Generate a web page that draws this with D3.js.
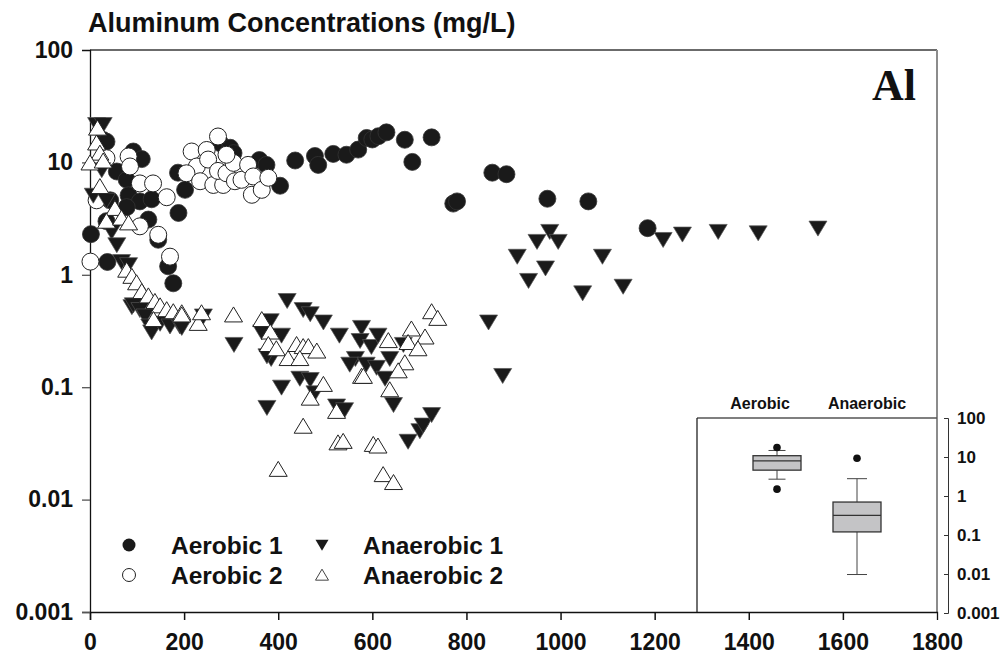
<!DOCTYPE html>
<html><head><meta charset="utf-8">
<script src="https://cdn.jsdelivr.net/npm/d3@7"></script>
<style>body{margin:0;background:#fff}svg{display:block;font-family:"Liberation Sans",Arial,sans-serif}</style>
</head><body>
<svg id="c" width="1006" height="661"></svg>
<script>
const aerobic1 = [[2,2.3],[37,1.3],[28,15.8],[35,15.3],[92,12.5],[110,10.7],[57,8.3],[78,7.0],[43,4.6],[82,5.1],[106,4.5],[131,4.7],[78,4.0],[124,3.1],[35,3.0],[188,3.55],[145,2.05],[166,1.19],[177,0.84],[187,8.1],[202,5.7],[277,14.8],[298,13.5],[305,12.1],[360,10.5],[375,9.5],[404,6.2],[436,10.4],[478,11.4],[485,9.5],[517,11.9],[545,11.7],[570,13],[588,16.5],[600,16],[613,17.1],[630,18.5],[669,15.9],[685,10.1],[726,16.7],[772,4.3],[780,4.5],[855,8.1],[885,7.85],[972,4.75],[1059,4.5],[1185,2.6]];
const aerobic2 = [[1,1.31],[14,4.6],[35,10.9],[82,11.3],[85,9.2],[106,6.5],[134,6.5],[163,4.9],[106,2.7],[145,2.27],[170,1.45],[216,12.5],[248,12.9],[272,17],[227,9.2],[251,10.6],[205,8.0],[234,6.8],[262,6.3],[283,6.3],[272,8.4],[290,8.0],[305,9.9],[308,6.8],[322,7.0],[336,9.5],[347,7.5],[344,5.15],[365,5.7],[379,7.3],[290,11.7]];
const anaerobic1 = [[14,21.7],[28,21.7],[25,8.6],[7,5.1],[35,4.6],[46,2.43],[57,1.85],[67,1.31],[82,1.23],[89,0.52],[92,0.54],[106,0.49],[117,0.43],[127,0.35],[131,0.31],[149,0.37],[170,0.35],[191,0.35],[195,0.34],[241,0.43],[306,0.24],[419,0.59],[453,0.49],[468,0.45],[496,0.38],[530,0.29],[577,0.34],[574,0.26],[598,0.23],[612,0.29],[564,0.18],[552,0.16],[587,0.16],[609,0.15],[637,0.18],[627,0.12],[645,0.07],[666,0.24],[383,0.39],[365,0.31],[385,0.18],[407,0.29],[376,0.19],[446,0.12],[468,0.117],[478,0.089],[407,0.10],[376,0.066],[524,0.068],[541,0.063],[676,0.033],[701,0.041],[708,0.046],[726,0.057],[847,0.38],[877,0.127],[908,1.46],[932,0.89],[950,1.98],[977,2.43],[995,1.98],[968,1.15],[1047,0.69],[1089,1.46],[1133,0.79],[1218,2.06],[1259,2.3],[1335,2.43],[1420,2.36],[1547,2.6]];
const anaerobic2 = [[16,20.2],[14,14.9],[21,12.1],[0,9.9],[28,10.3],[21,6.1],[53,3.9],[35,3.0],[67,3.2],[82,2.9],[78,1.1],[89,0.97],[99,0.85],[110,0.71],[124,0.65],[138,0.58],[149,0.53],[163,0.49],[177,0.47],[195,0.46],[135,0.40],[195,0.44],[230,0.37],[237,0.46],[305,0.44],[365,0.40],[383,0.31],[379,0.24],[396,0.22],[421,0.18],[439,0.24],[453,0.23],[464,0.23],[482,0.21],[446,0.18],[496,0.106],[468,0.080],[453,0.045],[527,0.032],[538,0.033],[602,0.031],[612,0.030],[400,0.0186],[577,0.125],[581,0.125],[524,0.061],[726,0.47],[739,0.41],[683,0.33],[712,0.28],[676,0.25],[697,0.22],[634,0.26],[669,0.165],[655,0.14],[637,0.095],[623,0.0167],[645,0.0142]];

const xTicks = [0,200,400,600,800,1000,1200,1400,1600,1800];
const yTicks = [100,10,1,0.1,0.01,0.001];
const yTickLabels = ["100","10","1","0.1","0.01","0.001"];
const seriesNames = ["Aerobic 1","Aerobic 2","Anaerobic 1","Anaerobic 2"];

const boxCategories = ["Aerobic","Anaerobic"];
const boxQ1 = [4.6, 0.12];
const boxMedian = [8.0, 0.32];
const boxQ3 = [10.8, 0.70];
const whiskerLow = [2.7, 0.0097];
const whiskerHigh = [14.7, 2.78];
const boxOutliers = [[17.6, 1.5], [9.3]];

const title = "Aluminum Concentrations (mg/L)";
const panelLabel = "Al";

const svg = d3.select("#c");
const L = 90, R = 937, T = 50, B = 612;
const x = d3.scaleLinear().domain([0,1800]).range([L,R]);
const y = d3.scaleLog().domain([0.001,100]).range([B,T]);

// frame
svg.append("line").attr("x1",L).attr("x2",R).attr("y1",T).attr("y2",T).attr("stroke","#3a3a3a").attr("stroke-width",1.3);
svg.append("line").attr("x1",R).attr("x2",R).attr("y1",T).attr("y2",B).attr("stroke","#8c8c8c").attr("stroke-width",2);

// inset frame
const IL = 697, IT = 418;
svg.append("line").attr("x1",IL).attr("x2",R).attr("y1",IT).attr("y2",IT).attr("stroke","#555").attr("stroke-width",1.3);
svg.append("line").attr("x1",IL).attr("x2",IL).attr("y1",IT).attr("y2",B).attr("stroke","#222").attr("stroke-width",1.3);

// axes
const xAxis = svg.append("g").attr("transform",`translate(0,${B})`)
  .call(d3.axisBottom(x).tickValues(xTicks).tickFormat(d3.format("d")).tickSize(8).tickPadding(14));
xAxis.selectAll(".tick line").attr("stroke","#111").attr("stroke-width",1.5).filter(d=>d===1800).remove();
xAxis.select(".domain").attr("stroke","#111").attr("stroke-width",1.3);
xAxis.selectAll("text").attr("font-size",23).attr("font-weight","bold").attr("fill","#111");

const yAxis = svg.append("g").attr("transform",`translate(${L},0)`)
  .call(d3.axisLeft(y).tickValues(yTicks).tickFormat((d,i)=>yTickLabels[i]).tickSize(8).tickPadding(9));
yAxis.selectAll(".tick line").attr("stroke","#555").attr("stroke-width",1.3).filter(d=>d===100).remove();
yAxis.select(".domain").attr("stroke","#111").attr("stroke-width",1.3);
yAxis.selectAll("text").attr("font-size",23).attr("font-weight","bold").attr("fill","#111");

// title & panel label
svg.append("text").attr("x",88).attr("y",32).attr("font-size",27).attr("font-weight","bold").attr("fill","#111").text(title);
svg.append("text").attr("x",894).attr("y",100).attr("text-anchor","middle").attr("font-family","'Liberation Serif','Times New Roman',serif")
  .attr("font-size",44).attr("font-weight","bold").attr("fill","#111").text(panelLabel);

// marker shapes
const triDown = (w,h)=>`M${-w/2},${-h*0.47}L${w/2},${-h*0.47}L0,${h*0.53}Z`;
const triUp = (w,h)=>`M0,${-h*0.53}L${w/2},${h*0.47}L${-w/2},${h*0.47}Z`;

const gPts = svg.append("g");
gPts.selectAll("circle.a1").data(aerobic1).join("circle").attr("class","a1")
  .attr("cx",d=>x(d[0])).attr("cy",d=>y(d[1])).attr("r",8.5).attr("fill","#1a1a1a").attr("stroke","#333").attr("stroke-width",0.8);
gPts.selectAll("circle.a2").data(aerobic2).join("circle").attr("class","a2")
  .attr("cx",d=>x(d[0])).attr("cy",d=>y(d[1])).attr("r",8.5).attr("fill","#fff").attr("stroke","#222").attr("stroke-width",1);
gPts.selectAll("path.n1").data(anaerobic1).join("path").attr("class","n1")
  .attr("transform",d=>`translate(${x(d[0])},${y(d[1])})`).attr("d",triDown(18,15)).attr("fill","#1a1a1a").attr("stroke","#555").attr("stroke-width",0.7);
gPts.selectAll("path.n2").data(anaerobic2).join("path").attr("class","n2")
  .attr("transform",d=>`translate(${x(d[0])},${y(d[1])})`).attr("d",triUp(18,15)).attr("fill","#fff").attr("stroke","#222").attr("stroke-width",1);

// legend
const legX = [129, 322], legTX = [171, 363], legY = [545, 575];
const leg = svg.append("g");
seriesNames.forEach((name,i)=>{
  const col = i<2 ? 0 : 1, row = i%2;
  const cx = legX[col], cy = legY[row];
  if (i===0) leg.append("circle").attr("cx",cx).attr("cy",cy).attr("r",6.5).attr("fill","#1a1a1a");
  if (i===1) leg.append("circle").attr("cx",cx).attr("cy",cy).attr("r",6.5).attr("fill","#fff").attr("stroke","#222");
  if (i===2) leg.append("path").attr("transform",`translate(${cx},${cy})`).attr("d",triDown(13,11)).attr("fill","#1a1a1a");
  if (i===3) leg.append("path").attr("transform",`translate(${cx},${cy})`).attr("d",triUp(13,11)).attr("fill","#fff").attr("stroke","#444");
  leg.append("text").attr("x",legTX[col]).attr("y",cy+8.5).attr("font-size",24.5).attr("font-weight","bold").attr("fill","#111").text(name);
});

// inset boxplot
const xi = d3.scalePoint().domain(boxCategories).range([IL,R]).padding(1);
const yi = d3.scaleLog().domain([0.001,100]).range([613,418]);
const AX = 948;
const iAxis = svg.append("g").attr("transform",`translate(${AX},0)`)
  .call(d3.axisLeft(yi).tickValues(yTicks).tickFormat((d,i)=>yTickLabels[i]).tickSize(4).tickPadding(0));
iAxis.select(".domain").attr("stroke","#333").attr("stroke-width",1);
iAxis.selectAll(".tick line").attr("stroke","#333");
iAxis.selectAll("text").attr("text-anchor","start").attr("x",9).attr("font-size",17).attr("font-weight","bold").attr("fill","#111");

const labelOffset = [-17, 10];
boxCategories.forEach((c,i)=>{
  const cx = xi(c), bw = 48, cap = i===0 ? 17 : 20;
  const g = svg.append("g");
  g.append("line").attr("x1",cx).attr("x2",cx).attr("y1",yi(whiskerHigh[i])).attr("y2",yi(boxQ3[i])).attr("stroke","#444");
  g.append("line").attr("x1",cx).attr("x2",cx).attr("y1",yi(boxQ1[i])).attr("y2",yi(whiskerLow[i])).attr("stroke","#444");
  g.append("line").attr("x1",cx-cap/2).attr("x2",cx+cap/2).attr("y1",yi(whiskerHigh[i])).attr("y2",yi(whiskerHigh[i])).attr("stroke","#444");
  g.append("line").attr("x1",cx-cap/2).attr("x2",cx+cap/2).attr("y1",yi(whiskerLow[i])).attr("y2",yi(whiskerLow[i])).attr("stroke","#444");
  g.append("rect").attr("x",cx-bw/2).attr("width",bw).attr("y",yi(boxQ3[i])).attr("height",yi(boxQ1[i])-yi(boxQ3[i]))
    .attr("fill","#c4c4c6").attr("stroke","#333").attr("stroke-width",1.3);
  g.append("line").attr("x1",cx-bw/2).attr("x2",cx+bw/2).attr("y1",yi(boxMedian[i])).attr("y2",yi(boxMedian[i])).attr("stroke","#333").attr("stroke-width",1.2);
  boxOutliers[i].forEach(v=>g.append("circle").attr("cx",cx).attr("cy",yi(v)).attr("r",3.8).attr("fill","#111"));
  svg.append("text").attr("x",cx+labelOffset[i]).attr("y",409).attr("text-anchor","middle").attr("font-size",16).attr("font-weight","bold").attr("fill","#111").text(c);
});
</script>
</body></html>
